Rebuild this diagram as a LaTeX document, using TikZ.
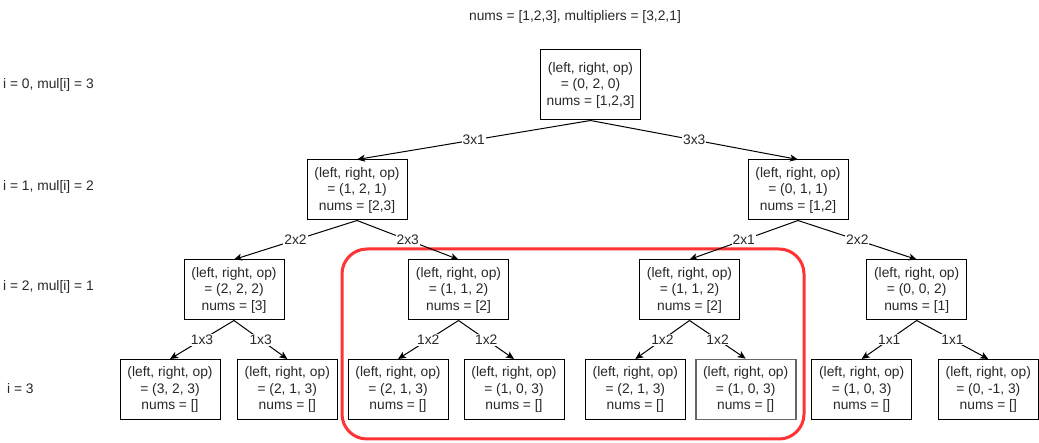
\documentclass[tikz,border=0pt]{standalone}
\usepackage{fontspec}
\setmainfont{Liberation Sans}
\usetikzlibrary{arrows.meta}
\definecolor{hl}{RGB}{255,51,51}
\definecolor{txt}{RGB}{40,40,40}
\begin{document}
\begin{tikzpicture}[x=1pt,y=-1pt,
  every node/.style={font=\fontsize{13.8}{16.5}\selectfont, text=txt},
  box/.style={draw=black, line width=1pt, minimum width=100pt, minimum height=60pt, align=center, inner sep=0pt},
  rootbox/.style={box, minimum height=70pt},
  grayb/.style={box, draw=black!60, line width=1.8pt},
  edge/.style={draw=black, line width=1pt, -{Stealth[length=8pt,width=7pt,inset=2pt]}},
  elab/.style={midway, fill=white, inner sep=1pt},
  lvl/.style={anchor=west, inner sep=0pt}]
\useasboundingbox (0,0) rectangle (1039,443);
\fill[white] (0,0) rectangle (1039,443);

\node[inner sep=0pt] (title) at (575,17) {nums = [1,2,3], multipliers = [3,2,1]};

\node[lvl] (l0) at (3,85) {i = 0, mul[i] = 3};
\node[lvl] (l1) at (3,187) {i = 1, mul[i] = 2};
\node[lvl] (l2) at (3,287) {i = 2, mul[i] = 1};
\node[lvl] (l3) at (7,389) {i = 3};

\draw[hl, line width=3pt, rounded corners=25pt] (342,249) rectangle (804,439);

\node[rootbox] (r) at (590.5,85) {(left, right, op)\\= (0, 2, 0)\\nums = [1,2,3]};

\node[box] (a) at (357,190) {(left, right, op)\\= (1, 2, 1)\\nums = [2,3]};
\node[box] (b) at (798,190) {(left, right, op)\\= (0, 1, 1)\\nums = [1,2]};

\node[box] (aa) at (234,290) {(left, right, op)\\= (2, 2, 2)\\nums = [3]};
\node[box] (ab) at (458.5,290) {(left, right, op)\\= (1, 1, 2)\\nums = [2]};
\node[box] (ba) at (689.5,290) {(left, right, op)\\= (1, 1, 2)\\nums = [2]};
\node[box] (bb) at (916.7,290) {(left, right, op)\\= (0, 0, 2)\\nums = [1]};

\node[box] (aaa) at (170,389.5) {(left, right, op)\\= (3, 2, 3)\\nums = []};
\node[box] (aab) at (287.3,389.5) {(left, right, op)\\= (2, 1, 3)\\nums = []};
\node[box] (aba) at (398,389.5) {(left, right, op)\\= (2, 1, 3)\\nums = []};
\node[box] (abb) at (514,389.5) {(left, right, op)\\= (1, 0, 3)\\nums = []};
\node[box] (baa) at (635.3,389.5) {(left, right, op)\\= (2, 1, 3)\\nums = []};
\node[grayb] (bab) at (745.7,389.5) {(left, right, op)\\= (1, 0, 3)\\nums = []};
\node[box] (bba) at (861.7,389.5) {(left, right, op)\\= (1, 0, 3)\\nums = []};
\node[box] (bbb) at (988.3,389.5) {(left, right, op)\\= (0, -1, 3)\\nums = []};

\draw[edge] (r.south) -- (a.north) node[elab] {3x1};
\draw[edge] (r.south) -- (b.north) node[elab] {3x3};
\draw[edge] (a.south) -- (aa.north) node[elab] {2x2};
\draw[edge] (a.south) -- (ab.north) node[elab] {2x3};
\draw[edge] (b.south) -- (ba.north) node[elab] {2x1};
\draw[edge] (b.south) -- (bb.north) node[elab] {2x2};
\draw[edge] (aa.south) -- (aaa.north) node[elab] {1x3};
\draw[edge] (aa.south) -- (aab.north) node[elab] {1x3};
\draw[edge] (ab.south) -- (aba.north) node[elab] {1x2};
\draw[edge] (ab.south) -- (abb.north) node[elab] {1x2};
\draw[edge] (ba.south) -- (baa.north) node[elab] {1x2};
\draw[edge] (ba.south) -- (bab.north) node[elab] {1x2};
\draw[edge] (bb.south) -- (bba.north) node[elab] {1x1};
\draw[edge] (bb.south) -- (bbb.north) node[elab] {1x1};
\end{tikzpicture}
\end{document}
